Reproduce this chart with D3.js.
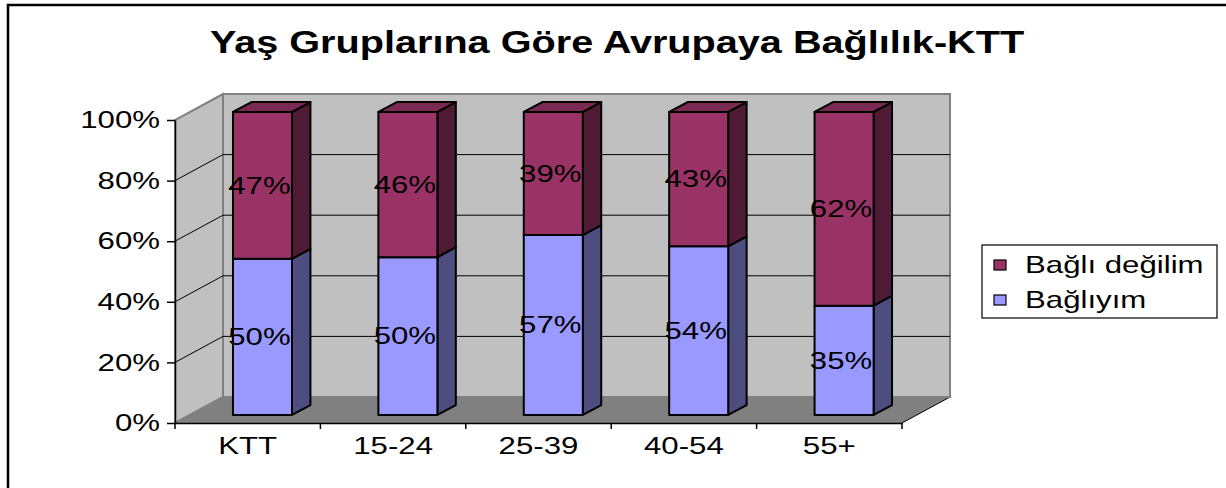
<!DOCTYPE html>
<html>
<head>
<meta charset="utf-8">
<script src="https://cdn.jsdelivr.net/npm/d3@7/dist/d3.min.js"></script>
<style>
    body { margin: 0; background: #fff; }
    svg { display: block; font-family: "Liberation Sans", Arial, sans-serif; }
</style>
</head>
<body>
<svg id="chart" width="1226" height="488"></svg>
<script>
const title = "Yaş Gruplarına Göre Avrupaya Bağlılık-KTT";
const categories = ["KTT", "15-24", "25-39", "40-54", "55+"];
const seriesNames = ["Bağlıyım", "Bağlı değilim"];
const bagliyim = [50, 50, 57, 54, 35];
const bagliDegilim = [47, 46, 39, 43, 62];
const yTicks = [0, 0.2, 0.4, 0.6, 0.8, 1];

// the original picture is stretched sideways, so text is too
const SX = 1.3;
const FS = 24;
const DX = 48, DY = -26; // depth of the floor / walls

const svg = d3.select("#chart");

const x = d3.scaleBand().domain(categories).range([175, 902]);
const y = d3.scaleLinear().domain([0, 1]).range([423, 120]);

// outer frame
svg.append("rect")
    .attr("x", 8).attr("y", 5)
    .attr("width", 1260).attr("height", 520)
    .attr("fill", "none").attr("stroke", "#000").attr("stroke-width", 2.5);

svg.append("text")
    .attr("transform", `translate(617,53) scale(${SX},1)`)
    .attr("text-anchor", "middle")
    .attr("font-size", 30.5)
    .attr("font-weight", "bold")
    .text(title);

// point at value v, front x, depth fraction d
const pt = (xf, v, d) => [xf + DX * d, y(v) + DY * d];
const poly = pts => pts.map(p => p.join(",")).join(" ");

const [xa, xb] = x.range();
const walls = svg.append("g");

// floor
walls.append("polygon")
    .attr("points", poly([pt(xa, 0, 0), pt(xb, 0, 0), pt(xb, 0, 1), pt(xa, 0, 1)]))
    .attr("fill", "#808080");
walls.append("line")
    .attr("x1", xb).attr("y1", y(0)).attr("x2", xb + DX).attr("y2", y(0) + DY)
    .attr("stroke", "#000").attr("stroke-width", 1);

// side wall
walls.append("polygon")
    .attr("points", poly([pt(xa, 0, 0), pt(xa, 0, 1), pt(xa, 1, 1), pt(xa, 1, 0)]))
    .attr("fill", "#c0c0c0").attr("stroke", "#808080").attr("stroke-width", 2);

// back wall
walls.append("polygon")
    .attr("points", poly([pt(xa, 0, 1), pt(xb, 0, 1), pt(xb, 1, 1), pt(xa, 1, 1)]))
    .attr("fill", "#c0c0c0").attr("stroke", "#808080").attr("stroke-width", 2);

// gridlines
const grid = walls.selectAll(".grid").data(yTicks.filter(t => t > 0 && t < 1)).enter().append("g");
grid.append("line")
    .attr("x1", xa + DX).attr("x2", xb + DX)
    .attr("y1", d => y(d) + DY).attr("y2", d => y(d) + DY)
    .attr("stroke", "#000").attr("stroke-width", 1);
grid.append("line")
    .attr("x1", xa).attr("x2", xa + DX)
    .attr("y1", d => y(d)).attr("y2", d => y(d) + DY)
    .attr("stroke", "#000").attr("stroke-width", 1);

// axes
const yAxis = svg.append("g")
    .attr("transform", `translate(${xa},0)`)
    .call(d3.axisLeft(y).tickValues(yTicks).tickFormat(d3.format(".0%")).tickSizeInner(8).tickSizeOuter(0).tickPadding(3.5));
yAxis.selectAll("text")
    .attr("font-size", FS)
    .attr("font-family", "Liberation Sans, Arial, sans-serif")
    .attr("transform", `scale(${SX},1)`);

const xAxis = svg.append("g")
    .attr("transform", `translate(0,${y(0)})`)
    .call(d3.axisBottom(x).tickSize(0).tickPadding(14));
xAxis.selectAll("text")
    .attr("font-size", FS)
    .attr("font-family", "Liberation Sans, Arial, sans-serif")
    .attr("transform", `scale(${SX},1)`);
svg.selectAll(".domain").attr("stroke", "#000").attr("stroke-width", 1.5);
svg.selectAll(".tick line").attr("stroke", "#000").attr("stroke-width", 1.5);

svg.append("g").selectAll("line")
    .data(categories.map(c => x(c)).concat([xb]))
    .enter().append("line")
    .attr("x1", d => d).attr("x2", d => d)
    .attr("y1", y(0)).attr("y2", y(0) + 6)
    .attr("stroke", "#000").attr("stroke-width", 1.5);

// bars
const colors = [
    {front: "#9999ff", side: "#4d4d80", top: "#7a7acc"},
    {front: "#993366", side: "#4f1a34", top: "#7a2952"}
];
const barW = x.bandwidth() * 0.406;
const d1 = 0.308, d2 = 0.692;

const bars = categories.map((c, i) => {
    const total = bagliyim[i] + bagliDegilim[i];
    const p = bagliyim[i] / total;
    const xl = x(c) + (x.bandwidth() - barW) / 2;
    return {
        xl, xr: xl + barW,
        segs: [
            {v0: 0, v1: p, value: bagliyim[i], s: 0},
            {v0: p, v1: 1, value: bagliDegilim[i], s: 1}
        ]
    };
});

const barG = svg.append("g")
    .attr("stroke", "#000").attr("stroke-width", 2).attr("stroke-linejoin", "round");

bars.forEach(b => {
    b.segs.forEach(sg => {
        barG.append("polygon")
            .attr("points", poly([pt(b.xr, sg.v0, d1), pt(b.xr, sg.v0, d2), pt(b.xr, sg.v1, d2), pt(b.xr, sg.v1, d1)]))
            .attr("fill", colors[sg.s].side);
        barG.append("polygon")
            .attr("points", poly([pt(b.xl, sg.v0, d1), pt(b.xr, sg.v0, d1), pt(b.xr, sg.v1, d1), pt(b.xl, sg.v1, d1)]))
            .attr("fill", colors[sg.s].front);
    });
    barG.append("polygon")
        .attr("points", poly([pt(b.xl, 1, d1), pt(b.xr, 1, d1), pt(b.xr, 1, d2), pt(b.xl, 1, d2)]))
        .attr("fill", colors[1].top);
});

// value labels
const labels = [];
bars.forEach(b => b.segs.forEach(sg => {
    const [cx, cy] = pt((b.xl + b.xr) / 2, (sg.v0 + sg.v1) / 2, d1);
    labels.push({cx, cy, text: sg.value + "%"});
}));
svg.append("g").selectAll("text")
    .data(labels).enter().append("text")
    .attr("transform", d => `translate(${d.cx - 3},${d.cy}) scale(${SX},1)`)
    .attr("text-anchor", "middle")
    .attr("dominant-baseline", "central")
    .attr("font-size", FS)
    .text(d => d.text);

// legend
const legend = svg.append("g");
legend.append("rect")
    .attr("x", 982).attr("y", 245).attr("width", 235).attr("height", 73)
    .attr("fill", "#fff").attr("stroke", "#000").attr("stroke-width", 1.2);
const legendItems = [
    {name: seriesNames[1], color: colors[1].front, cy: 265},
    {name: seriesNames[0], color: colors[0].front, cy: 300}
];
const li = legend.selectAll(".item").data(legendItems).enter().append("g");
li.append("rect")
    .attr("x", 994).attr("y", d => d.cy - 5)
    .attr("width", 12).attr("height", 10)
    .attr("fill", d => d.color).attr("stroke", "#000").attr("stroke-width", 1.2);
li.append("text")
    .attr("transform", d => `translate(1025,${d.cy}) scale(${SX},1)`)
    .attr("dominant-baseline", "central")
    .attr("font-size", FS)
    .text(d => d.name);
</script>
</body>
</html>
